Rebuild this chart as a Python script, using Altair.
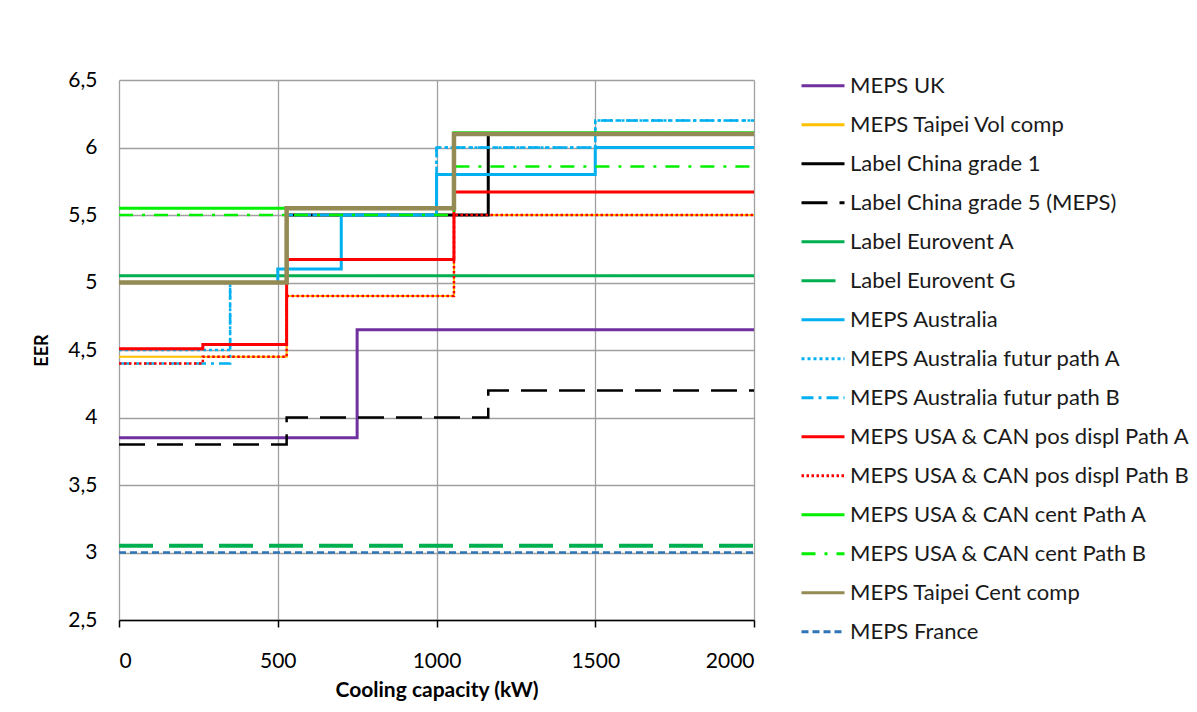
import altair as alt
import pandas as pd

# ---- data (step functions: breakpoints in kW and EER values, last value repeated at 2000) ----
series_names = [
    "MEPS UK",
    "MEPS Taipei Vol comp",
    "Label China grade 1",
    "Label China grade 5 (MEPS)",
    "Label Eurovent A",
    "Label Eurovent G",
    "MEPS Australia",
    "MEPS Australia futur path A",
    "MEPS Australia futur path B",
    "MEPS USA & CAN pos displ Path A",
    "MEPS USA & CAN pos displ Path B",
    "MEPS USA & CAN cent Path A",
    "MEPS USA & CAN cent Path B",
    "MEPS Taipei Cent comp",
    "MEPS France",
]

uk_kw = [0, 750, 2000]
uk_eer = [3.85, 4.65, 4.65]

taipei_vol_kw = [0, 528, 1055, 2000]
taipei_vol_eer = [4.45, 4.90, 5.50, 5.50]

china1_kw = [0, 528, 1163, 2000]
china1_eer = [5.0, 5.5, 6.1, 6.1]

china5_kw = [0, 528, 1163, 2000]
china5_eer = [3.8, 4.0, 4.2, 4.2]

eurovent_a_kw = [0, 2000]
eurovent_a_eer = [5.05, 5.05]

eurovent_g_kw = [0, 2000]
eurovent_g_eer = [3.05, 3.05]

australia_kw = [0, 500, 700, 1000, 1500, 2000]
australia_eer = [5.0, 5.1, 5.5, 5.8, 6.0, 6.0]

aus_path_a_kw = [0, 350, 528, 1000, 1500, 2000]
aus_path_a_eer = [4.5, 5.0, 5.5, 6.0, 6.2, 6.2]

aus_path_b_kw = [0, 350, 528, 1000, 1500, 2000]
aus_path_b_eer = [4.4, 5.0, 5.5, 6.0, 6.2, 6.2]

pos_a_kw = [0, 264, 528, 1055, 2000]
pos_a_eer = [4.51, 4.54, 5.17, 5.67, 5.67]

pos_b_kw = [0, 264, 528, 1055, 2000]
pos_b_eer = [4.40, 4.45, 4.90, 5.50, 5.50]

cent_a_kw = [0, 1055, 2000]
cent_a_eer = [5.55, 6.11, 6.11]

cent_b_kw = [0, 1055, 2000]
cent_b_eer = [5.50, 5.86, 5.86]

taipei_cent_kw = [0, 528, 1055, 2000]
taipei_cent_eer = [5.0, 5.55, 6.1, 6.1]

france_kw = [0, 2000]
france_eer = [3.0, 3.0]

all_kw = [uk_kw, taipei_vol_kw, china1_kw, china5_kw, eurovent_a_kw, eurovent_g_kw,
          australia_kw, aus_path_a_kw, aus_path_b_kw, pos_a_kw, pos_b_kw,
          cent_a_kw, cent_b_kw, taipei_cent_kw, france_kw]
all_eer = [uk_eer, taipei_vol_eer, china1_eer, china5_eer, eurovent_a_eer, eurovent_g_eer,
           australia_eer, aus_path_a_eer, aus_path_b_eer, pos_a_eer, pos_b_eer,
           cent_a_eer, cent_b_eer, taipei_cent_eer, france_eer]

# ---- styles ----
colors = ["#7030A0", "#FFC000", "#000000", "#000000", "#00B050", "#00B050",
          "#00B0F0", "#00B0F0", "#00B0F0", "#FF0000", "#FF0000",
          "#00F000", "#00F000", "#948A54", "#2E75B6"]
dashes = [[1, 0], [1, 0], [1, 0], [26, 12], [1, 0], [34, 16],
          [1, 0], [3, 3], [12, 5, 3, 5], [1, 0], [2.5, 2.5],
          [1, 0], [14, 9, 3, 9], [1, 0], [7, 4]]
widths = [3, 2, 3, 2.5, 3, 4, 3, 2.5, 2.5, 3, 2.5, 3, 2.5, 4.5, 2.5]

rows = []
for name, xs, ys in zip(series_names, all_kw, all_eer):
    for x, y in zip(xs, ys):
        rows.append({"series": name, "kw": x, "eer": y})
df = pd.DataFrame(rows)

x_enc = alt.X("kw:Q",
              scale=alt.Scale(domain=[0, 2000], nice=False),
              axis=alt.Axis(values=[0, 500, 1000, 1500, 2000], format="d",
                            title="Cooling capacity (kW)", grid=True,
                            domainColor="#000000", domainWidth=1.5,
                            tickColor="#000000", tickSize=7, tickWidth=1.5,
                            labelPadding=23, titlePadding=8, titleFontSize=21))
y_enc = alt.Y("eer:Q",
              scale=alt.Scale(domain=[2.5, 6.5], nice=False, zero=False),
              axis=alt.Axis(values=[2.5, 3, 3.5, 4, 4.5, 5, 5.5, 6, 6.5],
                            labelExpr="replace(toString(datum.value), '.', ',')",
                            title="EER", grid=True, domain=False, ticks=False,
                            labelPadding=22, titlePadding=16, titleFontSize=18))
color_enc = alt.Color("series:N",
                      scale=alt.Scale(domain=series_names, range=colors),
                      legend=alt.Legend(title=None, symbolType="stroke"))
dash_enc = alt.StrokeDash("series:N",
                          scale=alt.Scale(domain=series_names, range=dashes),
                          legend=alt.Legend(title=None, symbolType="stroke"))

layers = []
for name, w in zip(series_names, widths):
    layers.append(
        alt.Chart(df)
        .transform_filter(alt.datum.series == name)
        .mark_line(interpolate="step-after", strokeWidth=w)
        .encode(x=x_enc, y=y_enc, color=color_enc, strokeDash=dash_enc)
    )

chart = (
    alt.layer(*layers)
    .properties(
        width=635, height=540,
        padding={"left": 111, "top": 72, "right": 435, "bottom": 84},
        autosize=alt.AutoSizeParams(type="none"),
    )
    .configure(font="Lato")
    .configure_view(stroke="transparent")
    .configure_axis(gridColor="#a0a0a0", gridWidth=1.3,
                    labelFont="Lato", labelFontSize=21, labelColor="#000000",
                    titleFont="Lato", titleFontWeight="bold", titleColor="#000000")
    .configure_legend(orient="none", legendX=681, legendY=-13.5,
                      symbolType="stroke", symbolSize=1849, symbolStrokeWidth=3,
                      labelFont="Lato", labelFontSize=22, labelColor="#1a1a1a",
                      labelLimit=600, labelOffset=4, clipHeight=38.6,
                      rowPadding=0, padding=0)
)

chart.save("out.html", embed_options={"renderer": "svg", "actions": False})
